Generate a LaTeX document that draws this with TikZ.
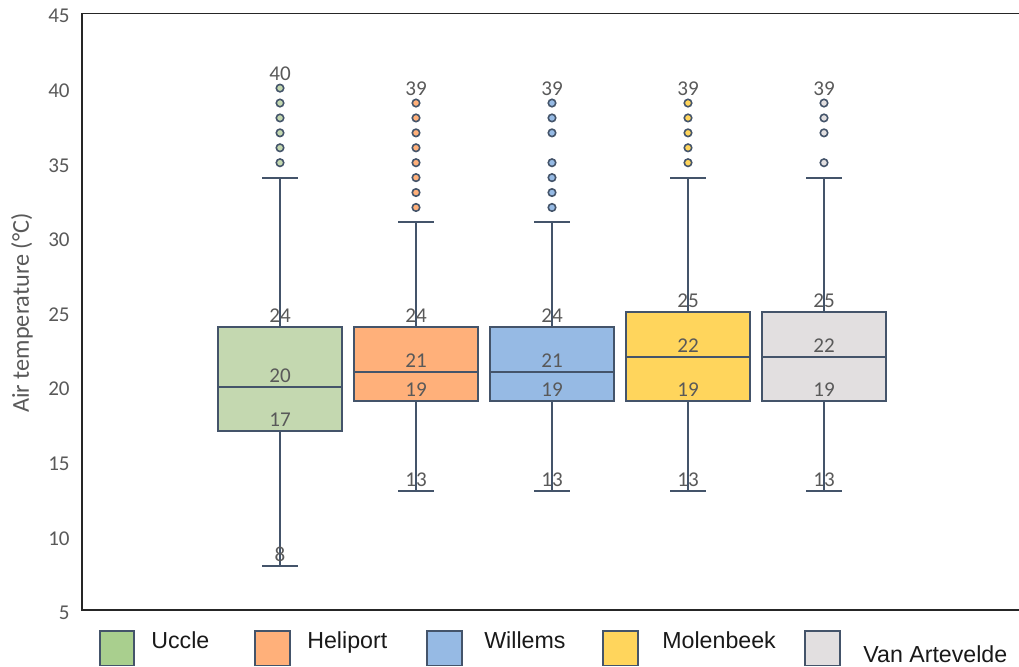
\documentclass[tikz,border=0pt]{standalone}
\usepackage{fontspec}
\setmainfont{Carlito}
\newfontfamily\legendfont{Liberation Sans}
\definecolor{edge}{RGB}{68,84,106}
\definecolor{txt}{RGB}{89,89,89}
\definecolor{uccle}{RGB}{196,216,176}
\definecolor{heliport}{RGB}{255,176,122}
\definecolor{willems}{RGB}{150,186,228}
\definecolor{molenbeek}{RGB}{255,213,92}
\definecolor{vanart}{RGB}{226,223,224}
\definecolor{uccleleg}{RGB}{169,207,142}
\begin{document}
\begin{tikzpicture}[
    x=0.02cm, y=0.2985cm,
    every node/.style={inner sep=0pt, font=\fontsize{12}{14}\selectfont, text=txt},
    tick/.style={anchor=base east, yshift=-0.186cm},
    val/.style={anchor=base, yshift=0.09cm},
    topval/.style={anchor=base, yshift=0.15cm},
    axis/.style={draw=black!85, line width=1.1pt},
    whisk/.style={draw=edge, line width=1.1pt},
    outlier/.style={circle, draw=edge, line width=0.9pt, minimum size=0.15cm},
    legbox/.style={draw=edge, line width=0.9pt, minimum size=0.69cm},
    legtext/.style={anchor=base west, font=\legendfont\fontsize{13.2}{15}\selectfont, text=black!90}
]
\useasboundingbox (0,1.214) rectangle (1019,45.905);
% axes
\draw[axis] (1019,45) -- (82,45) -- (82,5) -- (1019,5);
\foreach \t in {5,10,...,45}
    \node[tick] (tick\t) at (70,\t) {\t};
\node[rotate=90, anchor=base, font=\fontsize{13.8}{16}\selectfont] (ytitle) at (29,24.93) {Air temperature (°C)};
% boxes
\foreach \n/\x/\lo/\qa/\md/\qb/\hi/\mx/\out in {
    uccle/280/8/17/20/24/34/40/{35,36,37,38,39,40},
    heliport/416/13/19/21/24/31/39/{32,33,34,35,36,37,38,39},
    willems/552/13/19/21/24/31/39/{32,33,34,35,37,38,39},
    molenbeek/688/13/19/22/25/34/39/{35,36,37,38,39},
    vanart/824/13/19/22/25/34/39/{35,37,38,39}}
{
    \draw[whisk] (\x-18,\hi) -- (\x+18,\hi) (\x,\hi) -- (\x,\qb)
        (\x,\qa) -- (\x,\lo) (\x-18,\lo) -- (\x+18,\lo);
    \draw[whisk, fill=\n] (\x-62,\qa) rectangle (\x+62,\qb);
    \draw[whisk] (\x-62,\md) -- (\x+62,\md);
    \foreach \o in \out
        \node[outlier, fill=\n] (\n-o\o) at (\x,\o) {};
    \node[topval] (\n-max) at (\x,\mx) {\mx};
    \node[val] (\n-q3) at (\x,\qb) {\qb};
    \node[val] (\n-med) at (\x,\md) {\md};
    \node[val] (\n-q1) at (\x,\qa) {\qa};
    \node[val] (\n-min) at (\x,\lo) {\lo};
}
% legend
\node[legbox, fill=uccleleg] (leg-uccle) at (117,2.454) {};
\node[legtext] (lab-uccle) at (151,2.42) {Uccle};
\node[legbox, fill=heliport] (leg-heliport) at (272.5,2.454) {};
\node[legtext] (lab-heliport) at (307,2.42) {Heliport};
\node[legbox, fill=willems] (leg-willems) at (444.5,2.454) {};
\node[legtext] (lab-willems) at (484,2.42) {Willems};
\node[legbox, fill=molenbeek] (leg-molenbeek) at (620.5,2.454) {};
\node[legtext] (lab-molenbeek) at (662,2.42) {Molenbeek};
\node[legbox, fill=vanart] (leg-vanart) at (822.5,2.454) {};
\node[legtext] (lab-vanart) at (863,1.482) {Van Artevelde};
\end{tikzpicture}
\end{document}
